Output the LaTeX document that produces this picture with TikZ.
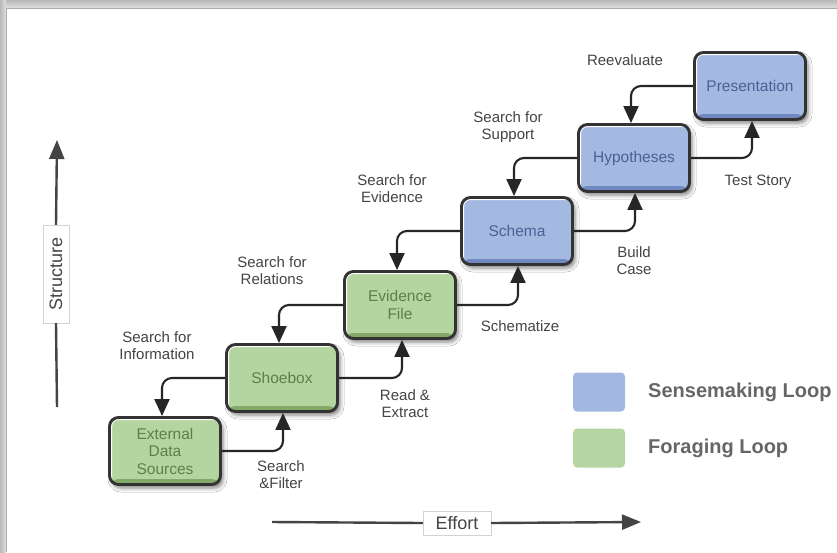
\documentclass[tikz,border=0pt]{standalone}
\usepackage{fontspec}
\setmainfont{Liberation Sans}
\usetikzlibrary{arrows.meta,shadows.blur,calc}
\definecolor{bluefill}{HTML}{A3B9E2}
\definecolor{bluedark}{HTML}{7189C0}
\definecolor{bluetext}{HTML}{4C6193}
\definecolor{greenfill}{HTML}{B4D59F}
\definecolor{greendark}{HTML}{82A968}
\definecolor{greentext}{HTML}{5B8048}
\definecolor{bordercol}{HTML}{333333}
\definecolor{labelgray}{HTML}{444444}
\definecolor{legendgray}{HTML}{666666}
\definecolor{legblue}{HTML}{A2B8E0}
\definecolor{leggreen}{HTML}{B5D6A3}
\tikzset{
  stage/.style={rounded corners=9pt, draw=bordercol, line width=2.9pt,
    minimum width=111pt, minimum height=67pt, align=center,
    font=\fontsize{15.5}{17.5}\selectfont,
    blur shadow={shadow xshift=2.5pt, shadow yshift=-3.5pt, shadow blur radius=4pt, shadow opacity=50}},
  sense/.style={stage, fill=bluefill, text=bluetext,
    path picture={
      \fill[bluedark] ([yshift=5.5pt]path picture bounding box.south west) rectangle (path picture bounding box.south east);
      \draw[white, line width=5pt] (path picture bounding box.south west) -- (path picture bounding box.north west) -- (path picture bounding box.north east);}},
  forage/.style={stage, fill=greenfill, text=greentext,
    path picture={
      \fill[greendark] ([yshift=5.5pt]path picture bounding box.south west) rectangle (path picture bounding box.south east);
      \draw[white, line width=5pt] (path picture bounding box.south west) -- (path picture bounding box.north west) -- (path picture bounding box.north east);}},
  flow/.style={draw=black!85, line width=2.1pt, rounded corners=10pt,
    -{Triangle[length=17pt,width=15pt]}},
  lbl/.style={font=\fontsize{15}{17}\selectfont, text=labelgray, align=center, inner sep=0pt},
  axislbl/.style={draw=gray!35, fill=white, font=\fontsize{18}{20}\selectfont, text=labelgray, inner sep=0pt},
  axisline/.style={draw=labelgray, line width=2.4pt},
  legbox/.style={rounded corners=4pt, minimum width=52pt, minimum height=39pt, inner sep=0pt},
  legtext/.style={font=\fontsize{20}{22}\selectfont\bfseries, text=legendgray, anchor=west, inner sep=0pt}
}
\begin{document}
\begin{tikzpicture}[x=1pt,y=-1pt]
\useasboundingbox (0,0) rectangle (837,552);
% frame
\fill[gray!35] (0,0) rectangle (837,552);
\shade[top color=gray!55, bottom color=gray!25] (0,0) rectangle (837,8);
\shade[left color=gray!55, right color=gray!25] (0,0) rectangle (6,552);
\fill[white] (6,8) rectangle (837,552);
\draw[gray!65, line width=0.8pt] (6,552) -- (6,8) -- (837,8);

% stages
\node[forage] (ext)    at (165,451) {External\\Data\\Sources};
\node[forage] (shoe)   at (282,378) {Shoebox};
\node[forage] (evid)   at (400,305) {Evidence\\File};
\node[sense]  (schema) at (517,231) {Schema};
\node[sense]  (hyp)    at (634,158) {Hypotheses};
\node[sense]  (pres)   at (750,86)  {Presentation};

% loops
\draw[flow] (shoe.west)   -| ([xshift=-3pt]ext.north);
\draw[flow] (ext.east)    -| ([xshift=1pt]shoe.south);
\draw[flow] (evid.west)   -| ([xshift=-3pt]shoe.north);
\draw[flow] (shoe.east)   -| ([xshift=2pt]evid.south);
\draw[flow] (schema.west) -| ([xshift=-3pt]evid.north);
\draw[flow] (evid.east)   -| ([xshift=1pt]schema.south);
\draw[flow] (hyp.west)    -| ([xshift=-3pt]schema.north);
\draw[flow] (schema.east) -| ([xshift=1pt]hyp.south);
\draw[flow] (pres.west)   -| ([xshift=-3pt]hyp.north);
\draw[flow] (hyp.east)    -| ([xshift=2pt]pres.south);

% labels
\node[lbl] (l1) at (157,346) {Search for\\Information};
\node[lbl] (l2) at (281,475) {Search\\\&Filter};
\node[lbl] (l3) at (272,271) {Search for\\Relations};
\node[lbl] (l4) at (405,404) {Read \&\\Extract};
\node[lbl] (l5) at (392,189) {Search for\\Evidence};
\node[lbl] (l6) at (520,326) {Schematize};
\node[lbl] (l7) at (508,127) {Search for\\Support};
\node[lbl] (l8) at (634,261) {Build\\Case};
\node[lbl] (l9) at (625,60)  {Reevaluate};
\node[lbl] (l10) at (758,182) {Test Story};

% axes
\coordinate (sbot) at (57,407);
\coordinate (stop) at (57,140);
\node[axislbl, rotate=90, minimum width=98pt, minimum height=26pt] (structure) at (56,274) {Structure};
\draw[axisline] (sbot) -- (structure.west);
\draw[axisline, -{Triangle[length=19pt,width=15pt]}] (structure.east) -- (stop);

\coordinate (eleft) at (272,522);
\coordinate (eright) at (641,522);
\node[axislbl, minimum width=68pt, minimum height=24pt] (effort) at (457,523) {Effort};
\draw[axisline] (eleft) -- (effort.west);
\draw[axisline, -{Triangle[length=19pt,width=15pt]}] (effort.east) -- (eright);

% legend
\node[legbox, fill=legblue] (lb) at (599,392) {};
\node[legbox, fill=leggreen] (lg) at (599,448) {};
\node[legtext] (lbt) at (648,392) {Sensemaking Loop};
\node[legtext] (lgt) at (648,448) {Foraging Loop};
\end{tikzpicture}
\end{document}
